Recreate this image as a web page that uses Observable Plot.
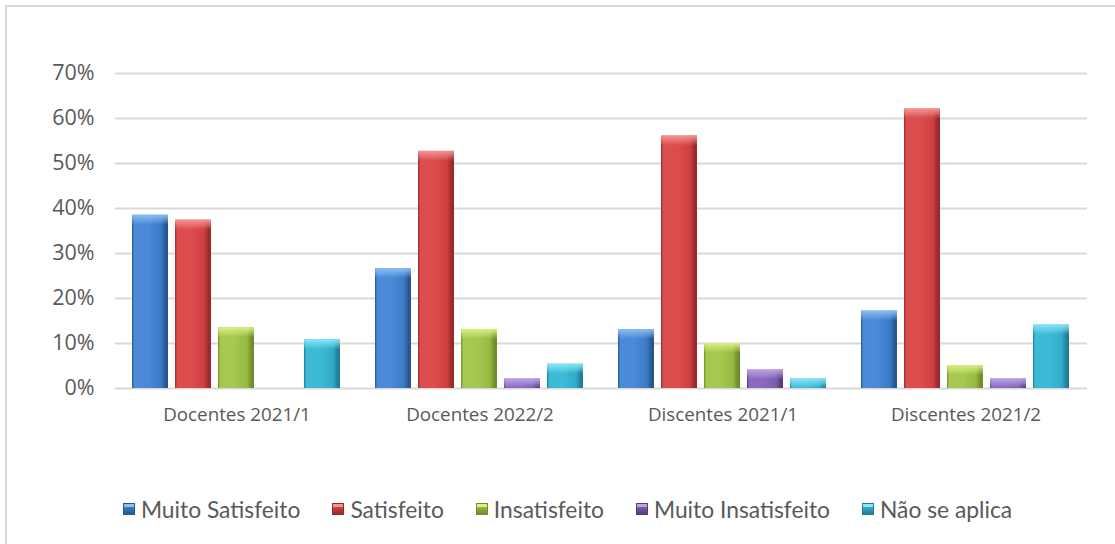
<!DOCTYPE html>
<html>
<head>
<meta charset="utf-8">
<script src="https://cdn.jsdelivr.net/npm/d3@7"></script>
<script src="https://cdn.jsdelivr.net/npm/@observablehq/plot@0.6"></script>
<style>
  body { margin: 0; background: #fff; }
  #wrap { position: relative; width: 1115px; height: 544px; overflow: hidden; background: #fff; }
  #frame { position: absolute; left: 5px; top: 5px; width: 1140px; height: 580px; border: 2px solid #d9d9d9; box-sizing: border-box; }
  #chart { position: absolute; left: 0; top: 0; }
  #legend { position: absolute; top: 495px; left: 0; width: 1135px; display: flex; justify-content: center; align-items: center; gap: 32px;
            font-family: 'Lato', 'Open Sans', sans-serif; font-size: 22.8px; color: #595959; }
  .item { display: flex; align-items: center; white-space: nowrap; }
  .sw { width: 12px; height: 12px; margin-right: 6px; box-sizing: border-box; }
</style>
</head>
<body>
<div id="wrap">
  <div id="frame"></div>
  <div id="chart"></div>
  <div id="legend"></div>
</div>
<script>
const groups = ["Docentes 2021/1", "Docentes 2022/2", "Discentes 2021/1", "Discentes 2021/2"];
const series = ["Muito Satisfeito", "Satisfeito", "Insatisfeito", "Muito Insatisfeito", "Não se aplica"];
const muitoSatisfeito   = [0.385, 0.266, 0.131, 0.172];
const satisfeito        = [0.374, 0.527, 0.561, 0.621];
const insatisfeito      = [0.135, 0.131, 0.100, 0.051];
const muitoInsatisfeito = [0.000, 0.021, 0.041, 0.021];
const naoSeAplica       = [0.108, 0.054, 0.021, 0.141];
const yTicks = [0, 0.1, 0.2, 0.3, 0.4, 0.5, 0.6, 0.7];

// colours: [edge dark, base, light, cap light]
const palette = [
  ["#27568f", "#3b7ac6", "#4a8ad6", "#8cc0f4"],
  ["#9a2a2a", "#cf4141", "#dc4d4d", "#f59696"],
  ["#708c2c", "#98b943", "#a6c84e", "#d8f282"],
  ["#563e7c", "#7c5dab", "#8a6abb", "#bea2ea"],
  ["#217d95", "#33abc8", "#3dbad6", "#86e8f8"]
];

const valuesBySeries = [muitoSatisfeito, satisfeito, insatisfeito, muitoInsatisfeito, naoSeAplica];
const table = [];
groups.forEach((g, gi) => {
  series.forEach((s, si) => {
    table.push({ group: g, series: s, si, value: valuesBySeries[si][gi] });
  });
});
const capHeight = 0.022;

const chart = Plot.plot({
  width: 1115,
  height: 440,
  marginLeft: 115,
  marginRight: 28,
  marginTop: 73,
  marginBottom: 52,
  style: { fontFamily: "'Open Sans', sans-serif", color: "#595959", background: "transparent", overflow: "visible" },
  fx: { domain: groups, padding: 0 },
  x: { domain: series, paddingInner: 0.16, paddingOuter: 0.385 },
  y: { domain: [0, 0.7] },
  color: { type: "identity" },
  marks: [
    Plot.ruleY(yTicks, { stroke: "#d9d9d9", strokeWidth: 2 }),
    Plot.barY(table, { fx: "group", x: "series", y: "value", fill: d => `url(#bar-${d.si})` }),
    Plot.barY(table.filter(d => d.value > 0), {
      fx: "group", x: "series",
      y1: "value", y2: d => Math.max(0, d.value - capHeight),
      fill: d => `url(#cap-${d.si})`
    }),
    Plot.axisY({ ticks: yTicks, tickFormat: d3.format(".0%"), tickSize: 0, tickPadding: 21, fontSize: 21.5, label: null }),
    Plot.axisX({ ticks: [], label: null }),
    Plot.axisFx({ anchor: "bottom", tickSize: 0, tickPadding: 19, fontSize: 18.8, label: null })
  ]
});

const svg = d3.select(chart);
const defs = svg.insert("defs", ":first-child");
palette.forEach(([edge, base, light, cap], i) => {
  const g = defs.append("linearGradient").attr("id", `bar-${i}`).attr("x1", 0).attr("x2", 1).attr("y1", 0).attr("y2", 0);
  [[0, edge], [0.06, light], [0.45, light], [0.8, base], [0.94, edge], [1, edge]].forEach(([o, c]) =>
    g.append("stop").attr("offset", o).attr("stop-color", c));
  const c2 = defs.append("linearGradient").attr("id", `cap-${i}`).attr("x1", 0).attr("x2", 0).attr("y1", 0).attr("y2", 1);
  [[0, cap, 0.95], [0.2, cap, 0.8], [1, cap, 0]].forEach(([o, c, op]) =>
    c2.append("stop").attr("offset", o).attr("stop-color", c).attr("stop-opacity", op));
});

document.getElementById("chart").appendChild(chart);

const legend = d3.select("#legend");
series.forEach((s, i) => {
  const [edge, base, light, cap] = palette[i];
  const it = legend.append("div").attr("class", "item");
  it.append("div").attr("class", "sw")
    .style("background", `linear-gradient(to bottom, ${cap} 0%, ${cap} 30%, ${base} 31%, ${edge} 100%)`)
    .style("border", `1px solid ${edge}`);
  it.append("span").text(s);
});
</script>
</body>
</html>
